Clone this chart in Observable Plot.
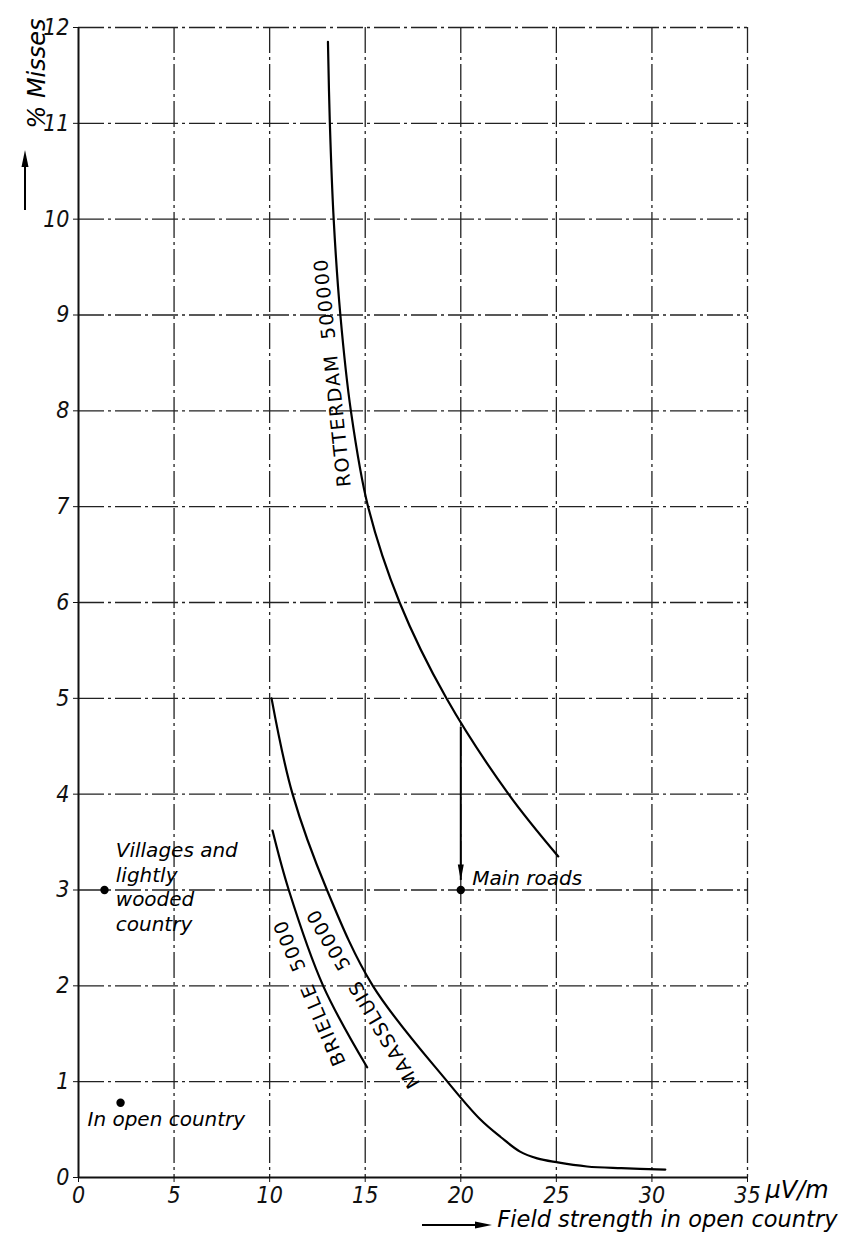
<!DOCTYPE html>
<html><head><meta charset="utf-8">
<script src="https://cdn.jsdelivr.net/npm/d3@7"></script>
<script src="https://cdn.jsdelivr.net/npm/@observablehq/plot@0.6"></script>
<style>
body{margin:0;background:#fff;}
#chart svg{display:block;}
</style></head><body><div id="chart"></div>
<script>
// ---- data ----
const xTicks = [0, 5, 10, 15, 20, 25, 30, 35];
const yTicks = [0, 1, 2, 3, 4, 5, 6, 7, 8, 9, 10, 11, 12];

const rotterdamX = [13.05, 13.15, 13.35, 13.7, 14.25, 15.15, 16.8, 19.25, 22.5, 25.1];
const rotterdamY = [11.85, 11, 10, 9, 8, 7, 6, 5, 4, 3.35];

const maassluisX = [10.1, 11.2, 13.0, 15.4, 19.3, 21.0, 22.1, 23.1, 24.0, 25.0, 26.6, 28.4, 30.7];
const maassluisY = [5.0, 4.0, 3.0, 2.0, 1.0, 0.61, 0.42, 0.27, 0.2, 0.16, 0.115, 0.097, 0.083];

const brielleX = [10.15, 11.0, 12.8, 15.1];
const brielleY = [3.62, 3.0, 2.0, 1.15];

const curveLabels = ["ROTTERDAM  500000", "MAASSLUIS  50000", "BRIELLE  5000"];
const curveLabelX = [13.3, 14.9, 12.1];
const curveLabelY = [8.4, 1.87, 1.93];
const curveLabelAngle = [-96, -120.5, -113];

const pointNames = ["Villages", "Open country", "Main roads"];
const pointX = [1.36, 2.2, 20];
const pointY = [3, 0.78, 3];

const blockNote = "Villages and\nlightly\nwooded\ncountry";
const blockNoteX = [1.95];
const blockNoteY = [3.52];
const lineNotes = ["In open country", "Main roads"];
const lineNoteX = [0.47, 20.6];
const lineNoteY = [0.6, 3.12];

const arrowX = [20];
const arrowFrom = [4.7];
const arrowTo = [3.1];

const yTitle = "% Misses";
const xUnit = "\u00b5V/m";
const xTitle = "Field strength in open country";

// ---- build ----
const rows = (xs, ys) => xs.map((x, i) => ({x, y: ys[i]}));
const FONT = "'DejaVu Sans', sans-serif";
const TICKFONT = "'DejaVu Sans Condensed', 'DejaVu Sans', sans-serif";
const labels = curveLabels.map((t, i) => ({t, x: curveLabelX[i], y: curveLabelY[i], a: curveLabelAngle[i]}));
const points = pointNames.map((n, i) => ({n, x: pointX[i], y: pointY[i]}));
const lines1 = lineNotes.map((t, i) => ({t, x: lineNoteX[i], y: lineNoteY[i]}));
const arrows = arrowX.map((x, i) => ({x, y1: arrowFrom[i], y2: arrowTo[i]}));

// narrow filled arrowhead, tip at the anchor point
const headSymbol = {
  draw(ctx, size) {
    const r = Math.sqrt(size / Math.PI);
    ctx.moveTo(0, 0);
    ctx.lineTo(-r * 0.6, -r * 3.2);
    ctx.lineTo(r * 0.6, -r * 3.2);
    ctx.closePath();
  }
};

const gridStyle = {stroke: "#222", strokeWidth: 1.3, strokeDasharray: "26,4,3,4"};
const curveStyle = {x: "x", y: "y", curve: "catmull-rom", stroke: "#000", strokeWidth: 2.2};

const chart = Plot.plot({
  width: 841, height: 1239,
  marginLeft: 78, marginRight: 94, marginTop: 27, marginBottom: 62,
  style: {fontFamily: FONT, fontStyle: "italic", color: "#111", background: "#fff"},
  x: {domain: [0, 35]},
  y: {domain: [0, 12]},
  marks: [
    Plot.ruleX(xTicks.slice(1), gridStyle),
    Plot.ruleY(yTicks.slice(1), gridStyle),
    Plot.ruleX([0], {stroke: "#111", strokeWidth: 2}),
    Plot.ruleY([0], {stroke: "#111", strokeWidth: 2}),
    Plot.axisX({ticks: xTicks, label: null, tickSize: 5, tickPadding: 4, fontSize: 23, fontFamily: TICKFONT}),
    Plot.axisY({ticks: yTicks, label: null, tickSize: 5, tickPadding: 4, fontSize: 23, fontFamily: TICKFONT}),
    Plot.line(rows(rotterdamX, rotterdamY), curveStyle),
    Plot.line(rows(maassluisX, maassluisY), curveStyle),
    Plot.line(rows(brielleX, brielleY), curveStyle),
    Plot.ruleX(arrows, {x: "x", y1: "y1", y2: "y2", stroke: "#000", strokeWidth: 2}),
    Plot.dot(arrows, {x: "x", y: "y2", symbol: headSymbol, r: 5, fill: "#000", stroke: "none"}),
    Plot.dot(points, {x: "x", y: "y", r: 4.2, fill: "#000", stroke: "none"}),
    Plot.text(labels, {x: "x", y: "y", text: "t", rotate: (d) => d.a, fontSize: 19, fontStyle: "normal", fill: "#000", textAnchor: "middle"}),
    Plot.text([blockNote], {x: () => blockNoteX[0], y: () => blockNoteY[0], text: (d) => d, lineAnchor: "top", textAnchor: "start", fontSize: 20, lineHeight: 1.22, fill: "#000"}),
    Plot.text(lines1, {x: "x", y: "y", text: "t", lineAnchor: "middle", textAnchor: "start", fontSize: 20, fill: "#000"}),
    Plot.text([yTitle], {frameAnchor: "top-left", dx: -51, dy: 46, rotate: -90, textAnchor: "middle", fontSize: 24, fill: "#000"}),
    Plot.text([xUnit], {frameAnchor: "bottom-right", dx: 18, dy: 20, textAnchor: "start", fontSize: 24, fill: "#000"}),
    Plot.text([xTitle], {frameAnchor: "bottom-right", dx: 90, dy: 49, textAnchor: "end", fontSize: 22.5, fill: "#000"})
  ]
});
document.getElementById("chart").appendChild(chart);

// letter spacing for the curve labels
d3.select(chart).selectAll("text").filter(function () { return curveLabels.includes(this.textContent); })
  .style("letter-spacing", "1.5px");

// axis-title arrows (decoration next to the titles)
const g = d3.select(chart).append("g").attr("fill", "#000").attr("stroke", "#000");
g.append("line").attr("x1", 25).attr("x2", 25).attr("y1", 210).attr("y2", 160).attr("stroke-width", 2);
g.append("path").attr("d", "M25,150 L21.5,167 L28.5,167 Z").attr("stroke", "none");
g.append("line").attr("x1", 422).attr("x2", 478).attr("y1", 1225).attr("y2", 1225).attr("stroke-width", 2);
g.append("path").attr("d", "M492,1225 L475,1221.5 L475,1228.5 Z").attr("stroke", "none");
</script>
</body></html>
